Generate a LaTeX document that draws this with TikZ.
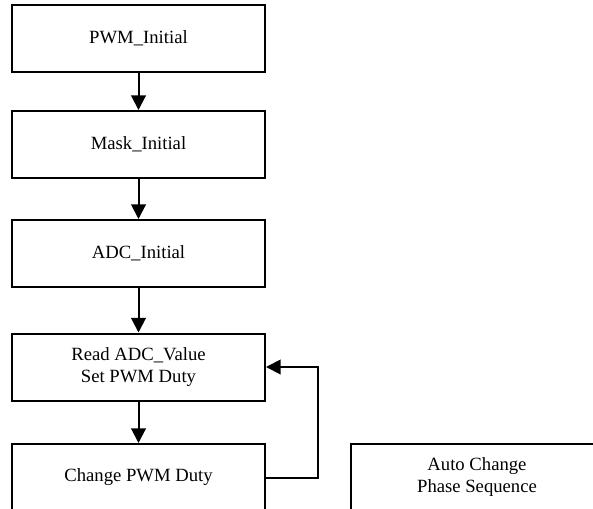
\documentclass[tikz,border=0pt]{standalone}
\usepackage{fontspec}
\setmainfont{Liberation Serif}
\usetikzlibrary{arrows.meta,calc}
\begin{document}
\begin{tikzpicture}[x=0.75pt,y=-0.75pt,
  box/.style={draw,line width=1.5pt,minimum width=189.75pt,minimum height=50.25pt,
    inner sep=0pt,align=center,font=\fontsize{14}{16.5}\selectfont},
  arr/.style={line width=1.5pt,-{Triangle[length=11pt,width=11pt]}}]
\useasboundingbox (0,0) rectangle (593,508);
\clip (0,0) rectangle (593,508);
\node[box] (b1) at (138.5,38.5) {PWM\_Initial};
\node[box] (b2) at (138.5,144.5) {Mask\_Initial};
\node[box] (b3) at (138.5,253.5) {ADC\_Initial};
\node[box] (b4) at (138.5,367) {Read ADC\_Value\\Set PWM Duty};
\node[box] (b5) at (138.5,477.5) {Change PWM Duty};
\node[box] (b6) at (477,477) {Auto Change\\Phase Sequence};
\draw[arr] (b1) -- (b2);
\draw[arr] (b2) -- (b3);
\draw[arr] (b3) -- (b4);
\draw[arr] (b4) -- (b5);
\coordinate (lp) at (317.7,477.5);
\draw[arr] (b5.east) -- (lp) |- (b4.east);
\end{tikzpicture}
\end{document}
